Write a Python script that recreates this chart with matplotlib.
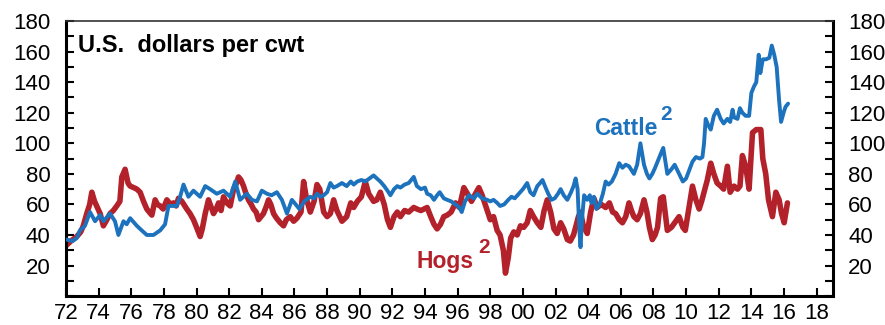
import matplotlib
matplotlib.use("Agg")
import matplotlib.pyplot as plt
from matplotlib.ticker import MultipleLocator, FixedLocator

plt.rcParams['font.family'] = ['Liberation Sans', 'DejaVu Sans']

# Hog prices, U.S. dollars per cwt (decimal year, value)
hog_years = [
    1972.0, 1972.3, 1972.66, 1972.9, 1973.06, 1973.27, 1973.45, 1973.58, 1973.75, 1973.88,
    1974.09, 1974.29, 1974.5, 1974.7, 1974.9, 1975.11, 1975.3, 1975.42, 1975.62, 1975.8,
    1975.93, 1976.15, 1976.34, 1976.54, 1976.75, 1976.95, 1977.1, 1977.26, 1977.46, 1977.6,
    1977.77, 1977.95, 1978.18, 1978.4, 1978.58, 1978.75, 1978.89, 1979.1, 1979.4, 1979.6,
    1979.81, 1980.0, 1980.22, 1980.35, 1980.53, 1980.73, 1980.9, 1981.04, 1981.2, 1981.35,
    1981.5, 1981.65, 1981.85, 1982.06, 1982.27, 1982.45, 1982.57, 1982.72, 1982.88, 1983.0,
    1983.18, 1983.35, 1983.49, 1983.65, 1983.8, 1983.95, 1984.1, 1984.25, 1984.41, 1984.55,
    1984.72, 1984.9, 1985.13, 1985.33, 1985.5, 1985.74, 1985.95, 1986.15, 1986.4, 1986.56,
    1986.75, 1986.97, 1987.2, 1987.38, 1987.55, 1987.79, 1988.0, 1988.2, 1988.4, 1988.6,
    1988.91, 1989.2, 1989.45, 1989.63, 1989.85, 1990.1, 1990.34, 1990.55, 1990.85, 1991.05,
    1991.26, 1991.5, 1991.7, 1991.88, 1992.1, 1992.3, 1992.49, 1992.75, 1993.0, 1993.31,
    1993.5, 1993.75, 1994.13, 1994.35, 1994.55, 1994.74, 1994.95, 1995.15, 1995.36, 1995.6,
    1995.87, 1996.1, 1996.38, 1996.6, 1996.85, 1997.09, 1997.3, 1997.5, 1997.81, 1998.0,
    1998.2, 1998.42, 1998.6, 1998.8, 1998.93, 1999.1, 1999.25, 1999.44, 1999.65, 1999.85,
    2000.05, 2000.26, 2000.45, 2000.65, 2000.88, 2001.1, 2001.3, 2001.49, 2001.7, 2001.9,
    2002.1, 2002.31, 2002.5, 2002.72, 2002.9, 2003.1, 2003.23, 2003.4, 2003.53, 2003.7,
    2003.94, 2004.15, 2004.35, 2004.55, 2004.8, 2005.07, 2005.3, 2005.5, 2005.68, 2005.9,
    2006.1, 2006.3, 2006.5, 2006.65, 2006.8, 2007.0, 2007.2, 2007.42, 2007.6, 2007.75,
    2007.93, 2008.1, 2008.25, 2008.44, 2008.6, 2008.85, 2009.1, 2009.3, 2009.57, 2009.8,
    2009.95, 2010.18, 2010.39, 2010.6, 2010.8, 2010.95, 2011.1, 2011.3, 2011.51, 2011.7,
    2011.9, 2012.12, 2012.3, 2012.53, 2012.7, 2012.94, 2013.15, 2013.3, 2013.45, 2013.65,
    2013.86, 2014.07, 2014.3, 2014.58, 2014.7, 2014.88, 2015.05, 2015.29, 2015.5, 2015.7,
    2015.85, 2016.01, 2016.21,
]
hog_prices = [
    33, 36, 39, 42, 46, 54, 60, 68, 62, 59,
    54, 46, 50, 54, 56, 59, 62, 78, 83, 74,
    72, 71, 70, 68, 62, 57, 55, 53, 63, 60,
    59, 57, 63, 60, 61, 59, 64, 62, 57, 54,
    50, 45, 39, 44, 54, 63, 58, 54, 57, 61,
    56, 65, 61, 59, 70, 74, 78, 76, 72, 68,
    63, 60, 57, 55, 50, 52, 54, 58, 63, 60,
    54, 51, 48, 46, 50, 52, 49, 51, 55, 75,
    63, 55, 62, 73, 70, 55, 52, 54, 63, 56,
    49, 52, 61, 58, 62, 65, 75, 67, 62, 63,
    68, 60, 50, 45, 52, 55, 52, 56, 55, 58,
    57, 56, 58, 52, 47, 44, 47, 52, 53, 55,
    61, 58, 71, 67, 62, 67, 71, 66, 56, 50,
    52, 43, 40, 30, 15, 25, 38, 42, 40, 46,
    45, 48, 56, 52, 48, 45, 56, 63, 55, 44,
    41, 48, 44, 37, 36, 40, 45, 52, 55, 46,
    41, 55, 64, 58, 60, 58, 61, 55, 54, 50,
    48, 52, 61, 56, 52, 50, 54, 63, 55, 45,
    37, 40, 45, 64, 65, 43, 45, 48, 52, 45,
    43, 58, 72, 63, 57, 62, 68, 76, 87, 80,
    74, 72, 70, 85, 68, 72, 70, 72, 92, 85,
    70, 107, 109, 109, 90, 80, 63, 52, 68, 63,
    54, 48, 61,
]

# Cattle prices, U.S. dollars per cwt (decimal year, value)
cattle_years = [
    1972.03, 1972.4, 1972.66, 1972.85, 1973.16, 1973.47, 1973.78, 1974.09, 1974.29, 1974.7,
    1975.0, 1975.21, 1975.52, 1975.72, 1975.93, 1976.34, 1976.64, 1976.95, 1977.36, 1977.77,
    1978.07, 1978.28, 1978.79, 1978.99, 1979.2, 1979.5, 1979.81, 1980.22, 1980.53, 1980.83,
    1981.24, 1981.65, 1982.06, 1982.37, 1982.67, 1983.08, 1983.39, 1983.7, 1984.0, 1984.31,
    1984.6, 1984.92, 1985.23, 1985.54, 1985.84, 1986.0, 1986.3, 1986.6, 1986.97, 1987.2,
    1987.38, 1987.6, 1987.79, 1988.0, 1988.2, 1988.4, 1988.6, 1988.91, 1989.2, 1989.45,
    1989.63, 1989.85, 1990.1, 1990.34, 1990.6, 1990.85, 1991.05, 1991.26, 1991.5, 1991.7,
    1991.88, 1992.1, 1992.3, 1992.49, 1992.75, 1993.0, 1993.31, 1993.5, 1993.75, 1994.0,
    1994.13, 1994.35, 1994.55, 1994.74, 1994.9, 1995.15, 1995.36, 1995.6, 1995.87, 1996.1,
    1996.25, 1996.45, 1996.7, 1997.0, 1997.2, 1997.5, 1997.81, 1998.0, 1998.2, 1998.42,
    1998.6, 1998.85, 1999.1, 1999.3, 1999.5, 1999.75, 2000.0, 2000.26, 2000.45, 2000.65,
    2000.88, 2001.05, 2001.2, 2001.35, 2001.55, 2001.75, 2001.95, 2002.15, 2002.31, 2002.5,
    2002.72, 2002.95, 2003.1, 2003.23, 2003.35, 2003.45, 2003.53, 2003.62, 2003.75, 2003.94,
    2004.1, 2004.2, 2004.35, 2004.5, 2004.7, 2004.9, 2005.07, 2005.25, 2005.45, 2005.68,
    2005.9, 2006.1, 2006.3, 2006.5, 2006.8, 2007.0, 2007.2, 2007.42, 2007.6, 2007.75,
    2007.93, 2008.1, 2008.44, 2008.6, 2008.85, 2009.1, 2009.3, 2009.57, 2009.8, 2010.0,
    2010.18, 2010.39, 2010.6, 2010.85, 2011.0, 2011.1, 2011.2, 2011.35, 2011.51, 2011.7,
    2011.9, 2012.12, 2012.3, 2012.53, 2012.7, 2012.85, 2012.94, 2013.15, 2013.3, 2013.45,
    2013.65, 2013.86, 2014.0, 2014.15, 2014.3, 2014.45, 2014.55, 2014.7, 2014.9, 2015.1,
    2015.25, 2015.4, 2015.55, 2015.7, 2015.82, 2016.0, 2016.1, 2016.25,
]
cattle_prices = [
    37, 36, 38, 43, 46, 55, 49, 53, 49, 54,
    49, 40, 49, 47, 51, 46, 43, 40, 40, 43,
    47, 59, 59, 65, 73, 65, 69, 65, 72, 70,
    67, 69, 65, 75, 63, 67, 63, 62, 69, 67,
    66, 68, 63, 54, 63, 61, 57, 62, 65, 64,
    67, 65, 66, 68, 74, 71, 72, 74, 72, 75,
    73, 75, 76, 75, 77, 79, 77, 75, 72, 69,
    66, 70, 72, 71, 73, 74, 78, 72, 70, 71,
    67, 66, 63, 66, 68, 64, 63, 62, 60, 58,
    55, 62, 66, 64, 67, 64, 63, 62, 63, 61,
    59, 60, 63, 65, 64, 67, 70, 74, 68, 66,
    72, 74, 76, 72, 67, 63, 64, 67, 70, 66,
    63, 68, 72, 77, 70, 45, 32, 50, 66, 63,
    66, 61, 65, 57, 60, 67, 75, 73, 75, 80,
    87, 84, 86, 85, 80, 86, 100, 86, 80, 77,
    80, 84, 93, 97, 80, 83, 86, 80, 75, 77,
    82, 88, 91, 90, 91, 100, 116, 112, 109, 118,
    122, 116, 113, 116, 114, 122, 117, 116, 123, 120,
    118, 118, 133, 137, 140, 158, 146, 155, 155, 156,
    164, 158, 150, 128, 114, 121, 124, 126,
]

x_tick_years = list(range(1972, 2019, 2))
x_tick_labels = [f"{y % 100:02d}" for y in x_tick_years]
y_tick_values = list(range(20, 181, 20))

cattle_color = "#1c72bd"
hog_color = "#b3222a"

fig = plt.figure(figsize=(8.85, 3.25), dpi=100)
ax = fig.add_axes([0.0746, 0.089, 0.8666, 0.846])

ax.plot(hog_years, hog_prices, color=hog_color, lw=4.0, solid_joinstyle="round",
        solid_capstyle="round", zorder=2)
ax.plot(cattle_years, cattle_prices, color=cattle_color, lw=2.8, solid_joinstyle="round",
        solid_capstyle="round", zorder=3)

ax.set_xlim(1972, 2019)
ax.set_ylim(0, 180)

ax.xaxis.set_major_locator(FixedLocator(x_tick_years))
ax.set_xticklabels(x_tick_labels)
ax.yaxis.set_major_locator(FixedLocator(y_tick_values))
ax.yaxis.set_minor_locator(MultipleLocator(10))

ax.tick_params(axis="x", which="major", direction="in", length=6, width=1.5,
               labelsize=16, pad=5, colors="black")
ax.tick_params(axis="y", which="both", direction="in", length=6, width=1.5,
               labelsize=16, pad=11, left=True, right=True,
               labelleft=True, labelright=True)

for side in ("left", "bottom", "right"):
    ax.spines[side].set_linewidth(2.2)
    ax.spines[side].set_color("black")
ax.spines["top"].set_linewidth(1.2)
ax.spines["top"].set_color("#333333")

ax.text(0.016, 0.91, "U.S.  dollars per cwt", transform=ax.transAxes,
        fontsize=17, fontweight="bold", ha="left", va="center", color="black")

ax.text(2006.3, 110, "Cattle", fontsize=16.5, fontweight="bold", color=cattle_color,
        ha="center", va="center")
ax.text(2008.8, 119, "2", fontsize=15, fontweight="bold", color=cattle_color,
        ha="center", va="center")
ax.text(1995.25, 22.5, "Hogs", fontsize=16.5, fontweight="bold", color=hog_color,
        ha="center", va="center")
ax.text(1997.6, 32, "2", fontsize=15, fontweight="bold", color=hog_color,
        ha="center", va="center")

fig.savefig("out.png", dpi=100)
